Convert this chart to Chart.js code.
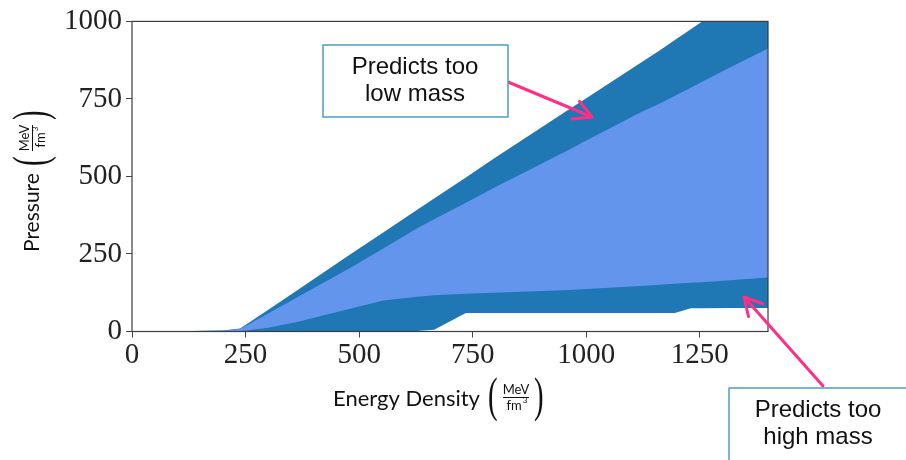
<!DOCTYPE html>
<html>
<head>
<meta charset="utf-8">
<script src="https://cdn.jsdelivr.net/npm/chart.js@4/dist/chart.umd.min.js"></script>
<style>
  html, body { margin: 0; padding: 0; background: #fff; }
  #wrap { width: 906px; height: 460px; }
</style>
</head>
<body>
<div id="wrap"><canvas id="eosChart" width="906" height="460"></canvas></div>
<script>
// Energy density grid (MeV/fm^3)
const energy = [0, 100, 200, 238, 300, 363, 480, 553, 627, 665, 735, 795, 964, 1000, 1119, 1163, 1195, 1230, 1255, 1324, 1400]

// Pressure bands (MeV/fm^3)
const outerUpper = [0, 1, 3, 10, 70, 132, 248, 319, 392, 429, 497, 556, 718, 752, 866, 908, 940, 975, 1000, 1068, 1140]
const innerUpper = [0, 1, 3, 8, 58, 110, 205, 268, 332, 362, 415, 462, 588, 616, 706, 736, 760, 786, 805, 857, 913]
const innerLower = [0, 0, 0, 1, 12, 31, 73, 100, 112, 117, 122, 125, 134, 137, 147, 151, 154, 157, 159, 166, 174]
const outerLower = [0, 0, 0, 0, 0, 0, 0, 0, 2, 6, 60, 60, 60, 60, 60, 60, 60, 75, 75, 76, 76]

// Tick labels
const xTicks = [0, 250, 500, 750, 1000, 1250]
const yTicks = [0, 250, 500, 750, 1000]

const darkBlue = "#1f77b4"
const lightBlue = "#6495ed"
const pink = "#ff2f86"
const boxEdge = "#4aa0c0"

const toPoints = (ys) => energy.map((e, i) => ({ x: e, y: ys[i] }))

// matplotlib-like frame around the plot area
const framePlugin = {
  id: "frame",
  afterDraw(chart) {
    const { ctx, chartArea: a } = chart
    ctx.save()
    ctx.strokeStyle = "#3c3c3c"
    ctx.lineWidth = 1.2
    ctx.strokeRect(a.left, a.top, a.right - a.left, a.bottom - a.top)
    ctx.restore()
  },
}

// draw "( MeV / fm3 )" unit fraction, origin at left of "("
function drawUnit(ctx, x0, yMid) {
  ctx.font = '48px "Liberation Serif"'
  ctx.textBaseline = "middle"
  ctx.textAlign = "left"
  ctx.save()
  ctx.translate(x0, yMid)
  ctx.scale(0.6, 1)
  ctx.fillText("(", 0, 0)
  ctx.restore()
  const cx = x0 + 28
  ctx.font = '13px "Lato"'
  ctx.textAlign = "center"
  ctx.textBaseline = "alphabetic"
  ctx.fillText("MeV", cx, yMid - 4)
  ctx.fillText("fm", cx - 2, yMid + 12)
  ctx.font = '8px "Lato"'
  ctx.fillText("3", cx + 9, yMid + 5)
  ctx.fillRect(cx - 13, yMid - 1, 26, 1)
  ctx.font = '48px "Liberation Serif"'
  ctx.textAlign = "left"
  ctx.textBaseline = "middle"
  ctx.save()
  ctx.translate(x0 + 46, yMid)
  ctx.scale(0.6, 1)
  ctx.fillText(")", 0, 0)
  ctx.restore()
}

const axisTitlePlugin = {
  id: "axisTitles",
  afterDraw(chart) {
    const { ctx } = chart
    ctx.save()
    ctx.fillStyle = "#111"
    // x title
    ctx.font = '22px "Lato"'
    ctx.textAlign = "left"
    ctx.textBaseline = "alphabetic"
    ctx.fillText("Energy Density", 333, 406)
    drawUnit(ctx, 488, 398)
    // y title (rotated)
    ctx.translate(39, 252)
    ctx.rotate(-Math.PI / 2)
    ctx.font = '21px "Lato"'
    ctx.textAlign = "left"
    ctx.textBaseline = "alphabetic"
    ctx.fillText("Pressure", 0, 0)
    drawUnit(ctx, 86, -6)
    ctx.restore()
  },
}

function arrow(ctx, x1, y1, x2, y2) {
  const ang = Math.atan2(y2 - y1, x2 - x1)
  const head = 20
  ctx.beginPath()
  ctx.moveTo(x1, y1)
  ctx.lineTo(x2, y2)
  ctx.moveTo(x2 - head * Math.cos(ang - 0.5), y2 - head * Math.sin(ang - 0.5))
  ctx.lineTo(x2, y2)
  ctx.lineTo(x2 - head * Math.cos(ang + 0.5), y2 - head * Math.sin(ang + 0.5))
  ctx.stroke()
}

function noteBox(ctx, x, y, w, h, lines, cx) {
  ctx.fillStyle = "#fff"
  ctx.fillRect(x, y, w, h)
  ctx.strokeStyle = boxEdge
  ctx.lineWidth = 1.5
  ctx.strokeRect(x, y, w, h)
  ctx.fillStyle = "#111"
  ctx.font = '24px "Liberation Sans"'
  ctx.textAlign = "center"
  ctx.textBaseline = "middle"
  ctx.fillText(lines[0], cx, y + 22)
  ctx.fillText(lines[1], cx, y + 49)
}

const notesPlugin = {
  id: "notes",
  afterDraw(chart) {
    const { ctx } = chart
    ctx.save()
    ctx.strokeStyle = pink
    ctx.lineWidth = 3
    ctx.lineCap = "round"
    ctx.lineJoin = "round"
    arrow(ctx, 508, 82, 592, 117)
    arrow(ctx, 823, 386, 744, 297)
    noteBox(ctx, 323, 45, 185, 72, ["Predicts too", "low mass"], 415)
    noteBox(ctx, 729, 388, 190, 80, ["Predicts too", "high mass"], 818)
    ctx.restore()
  },
}

const tickFont = { family: '"Liberation Serif"', size: 29 }
const plainLabel = (v) => String(v)

new Chart(document.getElementById("eosChart"), {
  type: "line",
  data: {
    datasets: [
      { label: "inner upper", data: toPoints(innerUpper), backgroundColor: lightBlue, fill: 1 },
      { label: "inner lower", data: toPoints(innerLower), backgroundColor: lightBlue, fill: false },
      { label: "outer upper", data: toPoints(outerUpper), backgroundColor: darkBlue, fill: 3 },
      { label: "outer lower", data: toPoints(outerLower), backgroundColor: darkBlue, fill: false },
    ],
  },
  options: {
    responsive: false,
    animation: false,
    devicePixelRatio: 1,
    layout: { padding: { left: 0, top: 16, right: 138, bottom: 0 } },
    elements: {
      line: { borderWidth: 0, tension: 0, borderColor: "rgba(0,0,0,0)" },
      point: { radius: 0 },
    },
    plugins: {
      legend: { display: false },
      tooltip: { enabled: false },
      filler: { propagate: false },
    },
    scales: {
      x: {
        type: "linear",
        min: 0,
        max: 1400,
        afterBuildTicks: (s) => { s.ticks = xTicks.map((v) => ({ value: v })) },
        afterFit: (s) => { s.height = 128.5 },
        grid: { drawOnChartArea: false, tickLength: 6, color: "#444" },
        border: { display: false },
        ticks: { font: tickFont, color: "#222", padding: 0, maxRotation: 0, callback: plainLabel },
      },
      y: {
        min: 0,
        max: 1000,
        afterBuildTicks: (s) => { s.ticks = yTicks.map((v) => ({ value: v })) },
        afterFit: (s) => { s.width = 132 },
        grid: { drawOnChartArea: false, tickLength: 6, color: "#444" },
        border: { display: false },
        ticks: { font: tickFont, color: "#222", padding: 4, callback: plainLabel },
      },
    },
  },
  plugins: [framePlugin, axisTitlePlugin, notesPlugin],
})
</script>
</body>
</html>
